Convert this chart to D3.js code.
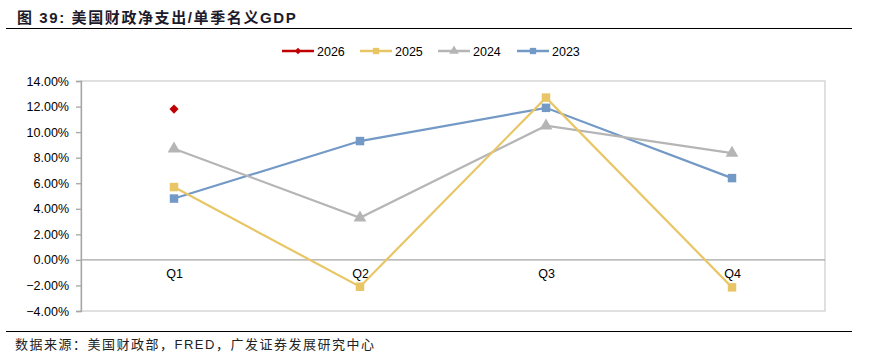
<!DOCTYPE html>
<html><head><meta charset="utf-8">
<script src="https://cdn.jsdelivr.net/npm/d3@7/dist/d3.min.js"></script>
<style>body{margin:0;background:#fff}svg{display:block}</style>
</head><body>
<svg id="c" width="877" height="357"></svg>
<script>
const categories = ["Q1","Q2","Q3","Q4"];
const seriesNames = ["2026","2025","2024","2023"];
const s2026 = [11.8, null, null, null];
const s2025 = [5.7, -2.1, 12.7, -2.15];
const s2024 = [8.7, 3.3, 10.5, 8.35];
const s2023 = [4.8, 9.3, 11.9, 6.4];
const yTicks = [-4,-2,0,2,4,6,8,10,12,14];

const svg = d3.select("#c");
const fontLat = "'Liberation Sans', Arial, sans-serif";
const fontMix = "'Liberation Sans', 'Noto Sans CJK SC', sans-serif";

// title
svg.append("text").attr("x",17).attr("y",23).attr("font-family",fontMix)
  .attr("font-weight","bold").attr("font-size",15).attr("letter-spacing",1.6).attr("fill","#1b1b2b")
  .text("图 39: 美国财政净支出/单季名义GDP");
svg.append("line").attr("x1",6).attr("x2",852).attr("y1",28.5).attr("y2",28.5)
  .attr("stroke","#000").attr("stroke-width",1.2);
svg.append("line").attr("x1",6).attr("x2",852).attr("y1",331.5).attr("y2",331.5)
  .attr("stroke","#000").attr("stroke-width",1.2);
svg.append("text").attr("x",15).attr("y",349).attr("font-family",fontMix)
  .attr("font-size",13).attr("letter-spacing",1.5).attr("fill","#222")
  .text("数据来源：美国财政部，FRED，广发证券发展研究中心");

const L=81, R=825, T=81, B=311;
const x = d3.scalePoint().domain(categories).range([L,R]).padding(0.5);
const y = d3.scaleLinear().domain([-4,14]).range([B,T]);

// frame
svg.append("rect").attr("x",L).attr("y",T).attr("width",R-L).attr("height",B-T)
  .attr("fill","none").attr("stroke","#cfcfcf").attr("stroke-width",1.3);

// y axis
const yAxis = d3.axisLeft(y).tickValues(yTicks).tickSize(5).tickPadding(7)
  .tickFormat(d => d3.format(".2f")(d) + "%");
const ga = svg.append("g").attr("transform",`translate(${L},0)`).call(yAxis);
ga.select(".domain").attr("stroke","#a6a6a6").attr("stroke-width",1.3);
ga.selectAll(".tick line").attr("stroke","#a6a6a6").attr("stroke-width",1.3);
ga.selectAll(".tick text").attr("font-family",fontLat).attr("font-size",12.5).attr("fill","#000");

// zero line
svg.append("line").attr("x1",L).attr("x2",R).attr("y1",y(0)).attr("y2",y(0))
  .attr("stroke","#a6a6a6").attr("stroke-width",1.3);

// x labels
const xAxis = d3.axisBottom(x).tickSize(0).tickPadding(9);
const gx = svg.append("g").attr("transform",`translate(0,${y(0)})`).call(xAxis);
gx.select(".domain").remove();
gx.selectAll(".tick text").attr("font-family",fontLat).attr("font-size",12.5).attr("fill","#000");

const series = [
  {name:"2023", vals:s2023, color:"#7399c6", marker:"square"},
  {name:"2024", vals:s2024, color:"#b5b5b5", marker:"triangle"},
  {name:"2025", vals:s2025, color:"#e8c666", marker:"square"},
  {name:"2026", vals:s2026, color:"#c00000", marker:"diamond"},
];
const symSize = {square:72, triangle:70, diamond:42};
const symType = {square:d3.symbolSquare, triangle:d3.symbolTriangle, diamond:d3.symbolSquare};
const symRot = {square:0, triangle:0, diamond:45};
const line = d3.line().defined(d=>d.v!=null).x(d=>x(d.c)).y(d=>y(d.v));

series.forEach(s=>{
  const pts = categories.map((c,i)=>({c, v:s.vals[i]}));
  svg.append("path").datum(pts).attr("d",line).attr("fill","none")
    .attr("stroke",s.color).attr("stroke-width",2.2);
  svg.selectAll(null).data(pts.filter(d=>d.v!=null)).enter().append("path")
    .attr("d", d3.symbol().type(symType[s.marker]).size(symSize[s.marker]))
    .attr("transform", d=>`translate(${x(d.c)},${y(d.v)}) rotate(${symRot[s.marker]})`)
    .attr("fill", s.color);
});

// legend
const legendX = {"2026":282,"2025":360,"2024":438,"2023":517};
const legendY = 51;
seriesNames.forEach(n=>{
  const s = series.find(d=>d.name===n);
  const g = svg.append("g").attr("transform",`translate(${legendX[n]},${legendY})`);
  g.append("line").attr("x1",0).attr("x2",32).attr("y1",0).attr("y2",0)
    .attr("stroke",s.color).attr("stroke-width",2.5);
  g.append("path").attr("d", d3.symbol().type(symType[s.marker]).size(s.marker==="diamond"?20:40))
    .attr("transform",`translate(16,0) rotate(${symRot[s.marker]})`).attr("fill",s.color);
  g.append("text").attr("x",35).attr("y",4.5).attr("font-family",fontLat)
    .attr("font-size",12.5).attr("fill","#000").text(n);
});
</script>
</body></html>
